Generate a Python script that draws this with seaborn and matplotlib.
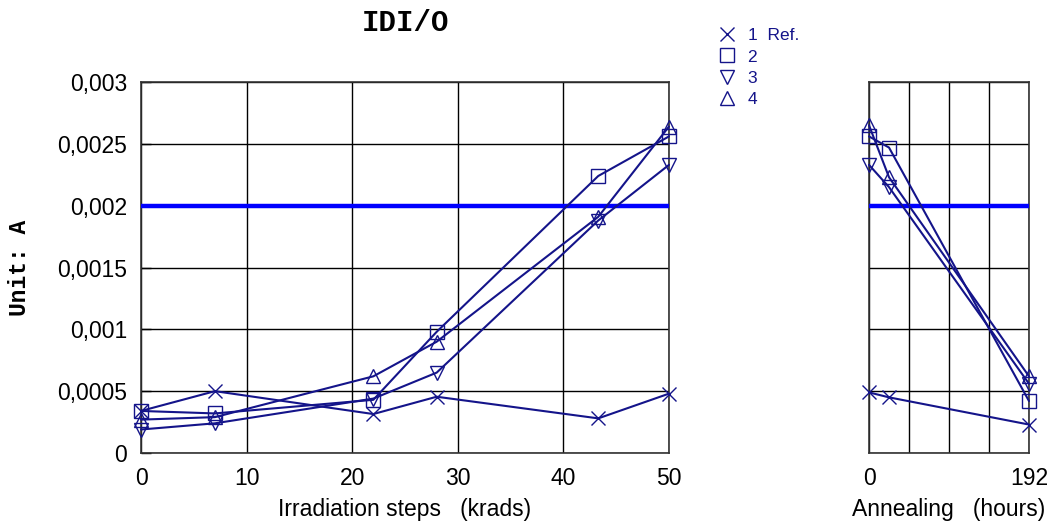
import matplotlib
matplotlib.use("Agg")
import matplotlib.pyplot as plt
from matplotlib.lines import Line2D
import seaborn as sns
import pandas as pd

# ---- data ----
irr_x = [0, 7, 22, 28, 43.3, 50]
irr_s1 = [0.00034, 0.00050, 0.000315, 0.000455, 0.00028, 0.00048]
irr_s2 = [0.00034, 0.00032, 0.00043, 0.00098, 0.00224, 0.00256]
irr_s3 = [0.00019, 0.00024, 0.00044, 0.00065, 0.00188, 0.00233]
irr_s4 = [0.00027, 0.00029, 0.00062, 0.00090, 0.00191, 0.00264]

ann_x = [0, 24, 192]
ann_s1 = [0.00049, 0.00045, 0.00023]
ann_s2 = [0.00256, 0.00247, 0.00042]
ann_s3 = [0.00233, 0.00215, 0.00056]
ann_s4 = [0.00265, 0.00223, 0.00062]

series_labels = ["1  Ref.", "2", "3", "4"]
limit_value = 0.002

y_ticks = [0, 0.0005, 0.001, 0.0015, 0.002, 0.0025, 0.003]
y_tick_labels = ["0", "0,0005", "0,001", "0,0015", "0,002", "0,0025", "0,003"]
irr_ticks = [0, 10, 20, 30, 40, 50]
ann_ticks = [0, 48, 96, 144, 192]
ann_tick_labels = ["0", "", "", "", "192"]

title = "IDI/O"
ylabel = "Unit: A"
irr_label = "Irradiation steps   (krads)"
ann_label = "Annealing   (hours)"

# ---- style ----
sns.set_theme(style="white")
plt.rcParams["font.family"] = ["Liberation Sans", "DejaVu Sans"]
plt.rcParams["text.color"] = "black"
plt.rcParams["axes.labelcolor"] = "black"
navy = "#14148a"
blue = "#0000ff"
markers = ["x", "s", "v", "^"]

W, H = 1061, 524
fig = plt.figure(figsize=(W / 100, H / 100), dpi=100)
ax1 = fig.add_axes([141 / W, 1 - 453 / H, (669 - 141) / W, (453 - 82) / H])
ax2 = fig.add_axes([869 / W, 1 - 453 / H, (1029 - 869) / W, (453 - 82) / H])

def draw(ax, xs, series):
    rows = []
    for lab, vals in zip(series_labels, series):
        for x, v in zip(xs, vals):
            rows.append({"x": x, "value": v, "series": lab})
    df = pd.DataFrame(rows)
    for lab, mk in zip(series_labels, markers):
        sub = df[df["series"] == lab]
        sns.lineplot(data=sub, x="x", y="value", ax=ax, color=navy, lw=1.5,
                     marker=mk, markersize=10, markerfacecolor="none",
                     markeredgecolor=navy, markeredgewidth=1.0,
                     clip_on=False, zorder=5, legend=False, sort=False)
    ax.axhline(limit_value, color=blue, lw=3.2, zorder=4)

draw(ax1, irr_x, [irr_s1, irr_s2, irr_s3, irr_s4])
draw(ax2, ann_x, [ann_s1, ann_s2, ann_s3, ann_s4])

for ax in (ax1, ax2):
    ax.set_ylim(0, 0.003)
    ax.set_yticks(y_ticks)
    ax.grid(True, color="black", lw=1.0)
    ax.set_axisbelow(True)
    for s in ax.spines.values():
        s.set_color("#333333")
        s.set_linewidth(1.2)
    ax.set_ylabel("")
    ax.tick_params(axis="x", length=0, pad=10, labelsize=16.5, colors="black")

ax1.set_xlim(0, 50)
ax1.set_xticks(irr_ticks)
ax1.set_yticklabels(y_tick_labels)
ax1.tick_params(axis="y", direction="in", length=7, width=1, left=True,
                pad=10, labelsize=16.5, colors="black")
ax1.set_xlabel(irr_label, fontsize=16.5, labelpad=6, color="black")

ax2.set_xlim(0, 192)
ax2.set_xticks(ann_ticks)
ax2.set_xticklabels(ann_tick_labels)
ax2.tick_params(axis="y", left=False, labelleft=False)
ax2.set_xlabel(ann_label, fontsize=16.5, labelpad=6, color="black")

fig.text(406 / W, 1 - 23 / H, title, ha="center", va="center", color="black",
         family=["Liberation Mono", "DejaVu Sans Mono"], weight="bold", fontsize=21)
fig.text(20 / W, 1 - 268 / H, ylabel, ha="center", va="center", rotation=90,
         color="black", family=["Liberation Mono", "DejaVu Sans Mono"],
         weight="bold", fontsize=16.5)

handles = [Line2D([], [], ls="none", marker=m, markersize=10, markerfacecolor="none",
                  markeredgecolor=navy, markeredgewidth=1.0) for m in markers]
leg = fig.legend(handles, series_labels, loc="upper left",
                 bbox_to_anchor=(718 / W, 1 - 28 / H), frameon=False,
                 fontsize=12.5, handlelength=1.0, handletextpad=0.7,
                 labelspacing=0.36, borderaxespad=0, borderpad=0)
for t in leg.get_texts():
    t.set_color(navy)

fig.savefig("out.png", dpi=100)
